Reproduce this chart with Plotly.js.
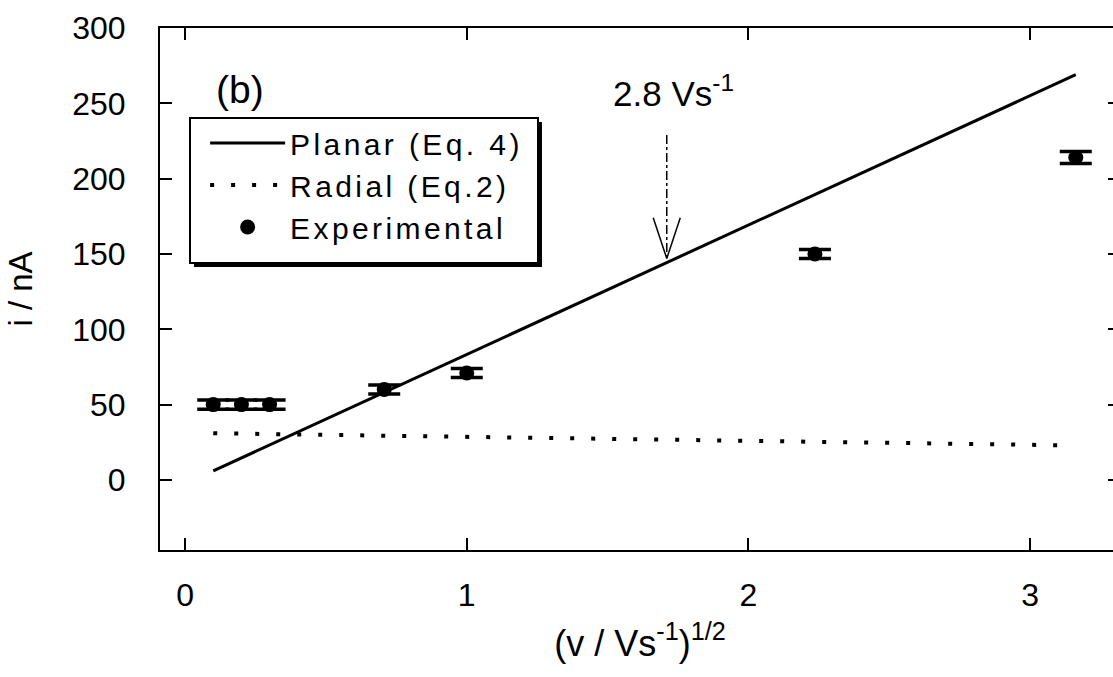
<!DOCTYPE html>
<html>
<head>
<meta charset="utf-8">
<script src="https://cdn.plot.ly/plotly-3.0.1.min.js"></script>
<style>
html, body { margin: 0; padding: 0; background: #fff; overflow: hidden; }
#chart { width: 1120px; height: 677px; }
.legendtext { letter-spacing: 3.4px; }
</style>
</head>
<body>
<div id="chart"></div>
<script>
// ---- data ----
const expX = [0.1, 0.2, 0.3, 0.707, 1.0, 2.236, 3.162];
const expY = [50, 50, 50, 60, 71, 150, 214];
const expErr = [3, 3, 3, 3, 3, 3, 4];

const planarX = [0.1, 3.162];
const planarY = [6, 269];

const radialX = [0.1, 3.12];
const radialY = [31, 23];

const xTickVals = [0, 1, 2, 3];
const yTickVals = [0, 50, 100, 150, 200, 250, 300];

const arrowX = 1.71;      // where the 2.8 Vs^-1 arrow points
const arrowTip = 147;
const arrowTop = 229;
const arrowLabelY = 258;

const FONT = "Liberation Sans, Arial, Helvetica, sans-serif";

const traces = [
  {
    x: planarX, y: planarY, mode: 'lines', name: 'Planar (Eq. 4)',
    line: { color: '#000', width: 3 }
  },
  {
    x: radialX, y: radialY, mode: 'lines', name: 'Radial (Eq.2)',
    line: { color: '#000', width: 4, dash: '4px,17px' }
  },
  {
    x: expX, y: expY, mode: 'markers', name: 'Experimental',
    marker: { color: '#000', size: 15 },
    error_y: { type: 'data', array: expErr, visible: true, color: '#000', thickness: 3.5, width: 16 }
  }
];

const headDx = 0.048, headDy = 27;
const shapes = [
  { type: 'line', xref: 'x', yref: 'y', x0: arrowX, x1: arrowX, y0: arrowTop, y1: arrowTip,
    line: { color: '#000', width: 1.5, dash: 'dashdot' } },
  { type: 'line', xref: 'x', yref: 'y', x0: arrowX - headDx, x1: arrowX, y0: arrowTip + headDy, y1: arrowTip,
    line: { color: '#000', width: 1.5 } },
  { type: 'line', xref: 'x', yref: 'y', x0: arrowX + headDx, x1: arrowX, y0: arrowTip + headDy, y1: arrowTip,
    line: { color: '#000', width: 1.5 } },
  // legend box drop shadow + box
  { type: 'rect', xref: 'paper', yref: 'paper', x0: 0.0354, x1: 0.3979, y0: 0.5421, y1: 0.820,
    fillcolor: '#000', line: { width: 0 }, layer: 'above' },
  { type: 'rect', xref: 'paper', yref: 'paper', x0: 0.03125, x1: 0.39375, y0: 0.5498, y1: 0.8276,
    fillcolor: '#fff', line: { color: '#000', width: 2 }, layer: 'above' }
];

const layout = {
  width: 1120, height: 677,
  margin: { l: 160, r: 0, t: 28, b: 127 },
  paper_bgcolor: '#fff', plot_bgcolor: '#fff',
  font: { family: FONT, color: '#000', size: 30 },
  showlegend: true,
  legend: {
    x: 0.047, y: 0.8295, xanchor: 'left', yanchor: 'top',
    bgcolor: 'rgba(0,0,0,0)', borderwidth: 0,
    font: { family: FONT, size: 30, color: '#000' },
    itemwidth: 75, tracegroupgap: 0
  },
  xaxis: {
    range: [-0.089, 3.319], tickvals: xTickVals, ticktext: xTickVals.map(String),
    ticks: 'inside', ticklen: 12, tickwidth: 2, tickcolor: '#000',
    showline: true, linecolor: '#000', linewidth: 2, mirror: 'ticks',
    showgrid: false, zeroline: false,
    tickfont: { family: FONT, size: 32 }, ticklabelstandoff: 16,
    title: { text: '(v / Vs<sup>-1</sup>)<sup>1/2</sup>', font: { family: FONT, size: 36 }, standoff: 18 }
  },
  yaxis: {
    range: [-46.5, 300], tickvals: yTickVals, ticktext: yTickVals.map(String),
    ticks: 'inside', ticklen: 12, tickwidth: 2, tickcolor: '#000',
    showline: true, linecolor: '#000', linewidth: 2, mirror: 'ticks',
    showgrid: false, zeroline: false,
    tickfont: { family: FONT, size: 32 }, ticklabelstandoff: 26,
    title: { text: 'i / nA', font: { family: FONT, size: 33 }, standoff: 30 }
  },
  shapes: shapes,
  annotations: [
    { xref: 'x', yref: 'y', x: arrowX, y: arrowLabelY, text: '2.8 Vs<sup>-1</sup>', xshift: 7,
      showarrow: false, font: { family: FONT, size: 35 }, xanchor: 'center', yanchor: 'middle' },
    { xref: 'paper', yref: 'paper', x: 0.0833, y: 0.882, text: '(b)',
      showarrow: false, font: { family: FONT, size: 39 }, xanchor: 'center', yanchor: 'middle' }
  ]
};

Plotly.newPlot('chart', traces, layout, { displayModeBar: false, staticPlot: true });
</script>
</body>
</html>
